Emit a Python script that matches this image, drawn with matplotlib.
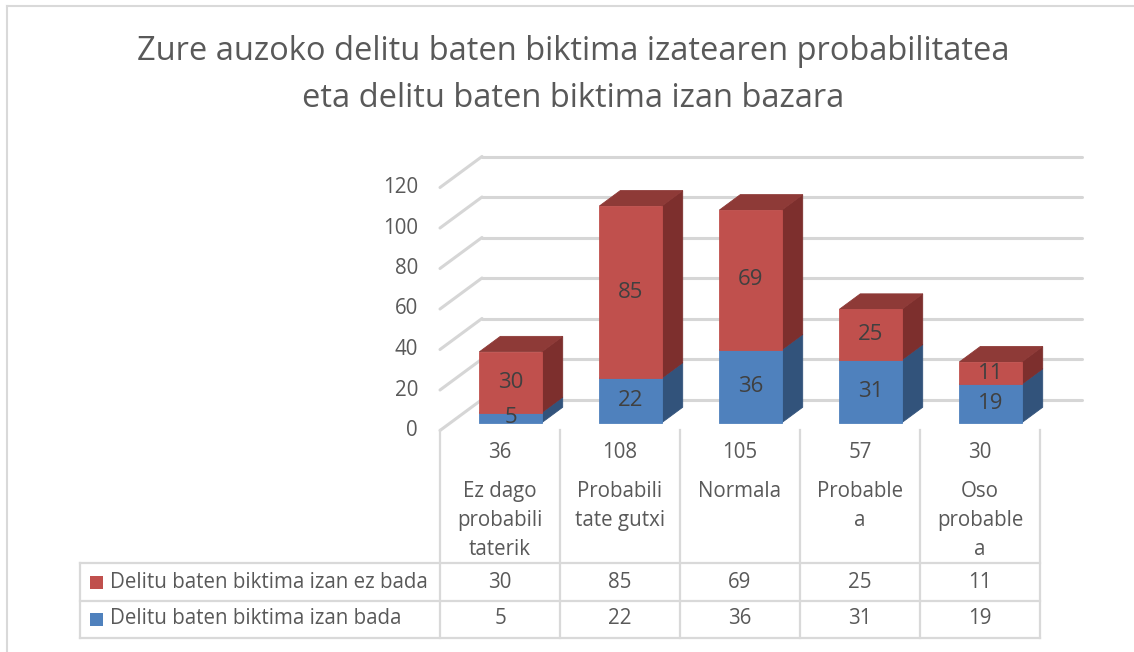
import numpy as np
import matplotlib.pyplot as plt
from matplotlib.patches import Polygon, Rectangle
from matplotlib.lines import Line2D
from matplotlib.transforms import blended_transform_factory

plt.rcParams['font.family'] = ['Open Sans', 'DejaVu Sans']

# data
categories = ['Ez dago\nprobabili\ntaterik', 'Probabili\ntate gutxi', 'Normala',
              'Probable\na', 'Oso\nprobable\na']
totals = [36, 108, 105, 57, 30]
ez_bada = [30, 85, 69, 25, 11]
bada = [5, 22, 36, 31, 19]
series_names = ['Delitu baten biktima izan ez bada', 'Delitu baten biktima izan bada']
yticks = [0, 20, 40, 60, 80, 100, 120]
title = 'Zure auzoko delitu baten biktima izatearen probabilitatea\neta delitu baten biktima izan bazara'

# colours (front, side, top)
red = ('#C0504D', '#7D2F2D', '#8E3A37')
blue = ('#4F81BD', '#32537B', '#3C6596')
grid_col = '#D6D6D6'
text_col = '#595959'
fs = 14.8

W, H = 1134, 652
fig = plt.figure(figsize=(W / 100, H / 100), dpi=100)
ax = fig.add_axes([0, 0, 1, 1])
ax.axis('off')

# pixel layout of the plotting box
x_left_px = 440.0    # front-left corner of the floor
cat_px = 120.0       # width of one category
y0_px = 430.5        # front floor line (value 0)
v_px = 2.025         # pixels per unit
depth_dx_px, depth_dy_px = 42.0, 31.0

ax.set_xlim(-0.5 - x_left_px / cat_px, -0.5 + (W - x_left_px) / cat_px)
ax.set_ylim((y0_px - H) / v_px, y0_px / v_px)

DX = depth_dx_px / cat_px
DY = depth_dy_px / v_px
n = len(categories)
xs = np.arange(n)


def proj(x, y, d):
    return (x + d * DX, y + d * DY)


# walls: back gridlines and left-wall diagonals
for v in yticks:
    ax.add_line(Line2D([-0.5 + DX, n - 0.5 + DX], [v + DY, v + DY],
                       color=grid_col, lw=2.2, solid_capstyle='round', zorder=1))
    ax.add_line(Line2D([-0.5, -0.5 + DX], [v, v + DY],
                       color=grid_col, lw=2.2, solid_capstyle='round', zorder=1))
    ax.text(-0.5 - 22 / cat_px, v, str(v), ha='right', va='center',
            fontsize=fs, color=text_col)

# stacked 3D columns
w = 0.52
d0, d1 = 0.25, 0.75


def draw_block(xc, y0, y1, cols, top=False):
    xl, xr = xc - w / 2, xc + w / 2
    front = [proj(xl, y0, d0), proj(xr, y0, d0), proj(xr, y1, d0), proj(xl, y1, d0)]
    side = [proj(xr, y0, d0), proj(xr, y0, d1), proj(xr, y1, d1), proj(xr, y1, d0)]
    ax.add_patch(Polygon(side, closed=True, fc=cols[1], ec=cols[1], lw=0.6, zorder=3))
    if top:
        tp = [proj(xl, y1, d0), proj(xr, y1, d0), proj(xr, y1, d1), proj(xl, y1, d1)]
        ax.add_patch(Polygon(tp, closed=True, fc=cols[2], ec=cols[2], lw=0.6, zorder=3))
    ax.add_patch(Polygon(front, closed=True, fc=cols[0], ec=cols[0], lw=0.6, zorder=3))


for i in range(n):
    draw_block(xs[i], 0, bada[i], blue, top=True)
    draw_block(xs[i], bada[i], bada[i] + ez_bada[i], red, top=True)
    for lo, val in ((0, bada[i]), (bada[i], ez_bada[i])):
        tx, ty = proj(xs[i], lo + val / 2, d0)
        ax.text(tx, ty, str(val), ha='center', va='center', fontsize=16,
                color='#404040', zorder=5)

# data table under the chart
tr = blended_transform_factory(ax.transData, fig.transFigure)


def fy(px):
    return 1 - px / H


tbl_col = '#D9D9D9'
for k in range(n + 1):
    ax.add_line(Line2D([-0.5 + k, -0.5 + k], [fy(430), fy(638)], transform=tr,
                       color=tbl_col, lw=1.6, zorder=2))
# legend column and horizontal rules
x_tbl_left = -0.5 - (x_left_px - 80) / cat_px
for ypx in (563, 601, 638):
    ax.add_line(Line2D([x_tbl_left, n - 0.5], [fy(ypx), fy(ypx)], transform=tr,
                       color=tbl_col, lw=1.6, zorder=2))
ax.add_line(Line2D([x_tbl_left, x_tbl_left], [fy(563), fy(638)], transform=tr,
                   color=tbl_col, lw=1.6, zorder=2))

for i in range(n):
    ax.text(xs[i], fy(453), str(totals[i]), transform=tr, ha='center', va='center',
            fontsize=fs, color=text_col)
    ax.text(xs[i], fy(481), categories[i], transform=tr, ha='center', va='top',
            fontsize=fs, color=text_col, linespacing=1.5)
    ax.text(xs[i], fy(582), str(ez_bada[i]), transform=tr, ha='center', va='center',
            fontsize=fs, color=text_col)
    ax.text(xs[i], fy(619), str(bada[i]), transform=tr, ha='center', va='center',
            fontsize=fs, color=text_col)

sq = 13 / cat_px
for name, cols, ypx in ((series_names[0], red, 582), (series_names[1], blue, 619)):
    ax.add_patch(Rectangle((x_tbl_left + 10 / cat_px, fy(ypx + 7)), sq, 13 / H,
                           transform=tr, fc=cols[0], ec='none'))
    ax.text(x_tbl_left + 30 / cat_px, fy(ypx), name, transform=tr, ha='left',
            va='center', fontsize=fs, color=text_col)

# title
fig.text(0.5055, fy(75), title, ha='center', va='center', fontsize=23.5,
         color=text_col, linespacing=1.55)

# chart area frame (left and top edges)
fig.add_artist(Line2D([6.5 / W, 6.5 / W], [0, fy(5.5)], color='#D9D9D9', lw=1.5))
fig.add_artist(Line2D([6.5 / W, 1], [fy(5.5), fy(5.5)], color='#D9D9D9', lw=1.5))

fig.savefig('out.png', dpi=100)
